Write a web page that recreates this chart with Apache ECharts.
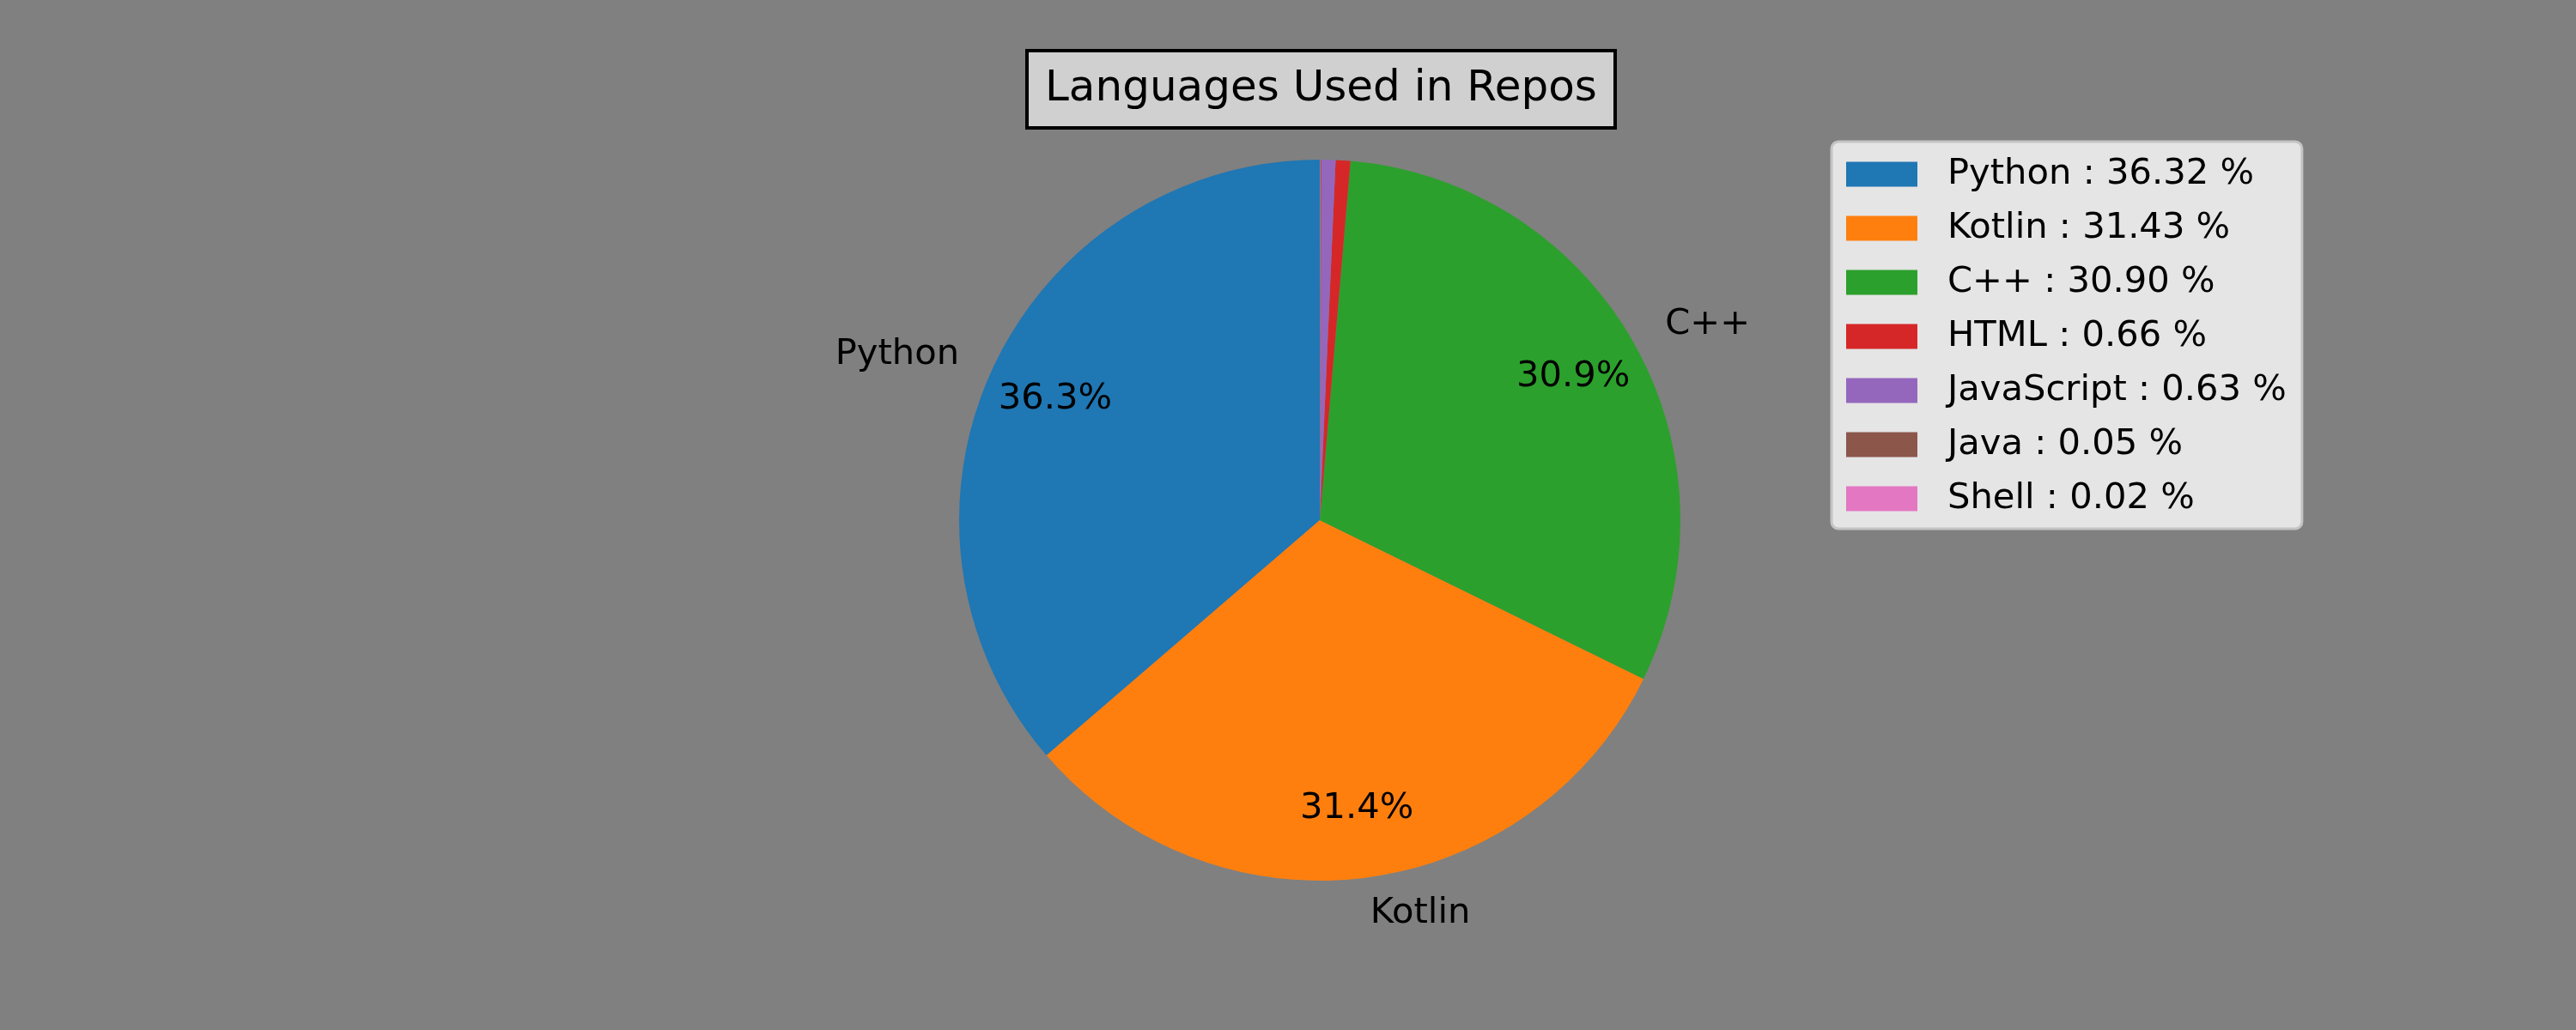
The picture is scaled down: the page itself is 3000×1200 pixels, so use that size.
<!DOCTYPE html>
<html>
<head>
<meta charset="utf-8">
<title>Languages Used in Repos</title>
<script src="https://cdn.jsdelivr.net/npm/echarts@6/dist/echarts.min.js"></script>
<style>
  html, body { margin: 0; padding: 0; background: #808080; }
  #chart { width: 3000px; height: 1200px; }
</style>
</head>
<body>
<div id="chart"></div>
<script>
// languages and their share (%) of code
const langs = ['Python', 'Kotlin', 'C++', 'HTML', 'JavaScript', 'Java', 'Shell'];
const shares = [36.32, 31.43, 30.90, 0.66, 0.63, 0.05, 0.02];
const colors = ['#1f77b4', '#ff7f0e', '#2ca02c', '#d62728', '#9467bd', '#8c564b', '#e377c2'];
// only these get a name / percent label on the pie
const labelled = ['Python', 'Kotlin', 'C++'];

const FONT = 'DejaVu Sans';
const FS = 41.67;
const R = 420;
const CENTER = [1537, 606];

const chart = echarts.init(document.getElementById('chart'), null, { renderer: 'canvas' });

const pieData = langs.map(function (n, i) {
  return { name: n, value: shares[i], itemStyle: { color: colors[i] } };
});

const option = {
  backgroundColor: '#808080',
  animation: false,
  title: {
    text: 'Languages Used in Repos',
    left: 1196,
    top: 59,
    padding: [20, 21],
    backgroundColor: '#d0d0d0',
    borderColor: '#000',
    borderWidth: 4,
    textStyle: {
      fontFamily: FONT,
      fontSize: 50,
      fontWeight: 'normal',
      color: '#000',
      lineHeight: 50
    }
  },
  legend: {
    orient: 'vertical',
    left: 2133,
    top: 165,
    padding: [17, 18, 14, 17],
    itemGap: 21,
    itemWidth: 83,
    itemHeight: 29,
    icon: 'rect',
    backgroundColor: '#e5e5e5',
    borderColor: '#c4c4c4',
    borderWidth: 3,
    borderRadius: 8,
    data: langs,
    formatter: function (name) {
      const i = langs.indexOf(name);
      return name + ' : ' + shares[i].toFixed(2) + ' %';
    },
    textStyle: {
      fontFamily: FONT,
      fontSize: FS,
      lineHeight: 42,
      color: '#000',
      padding: [0, 0, 0, 30]
    }
  },
  series: [
    {
      name: 'langs',
      type: 'pie',
      center: CENTER,
      radius: R,
      startAngle: 90,
      clockwise: false,
      avoidLabelOverlap: false,
      emphasis: { disabled: true },
      data: pieData,
      label: {
        show: true,
        position: 'outside',
        distanceToLabelLine: 0,
        fontFamily: FONT,
        fontSize: FS,
        color: '#000',
        formatter: function (p) {
          return labelled.indexOf(p.name) >= 0 ? p.name : '';
        }
      },
      labelLine: { show: false, length: 42, length2: 0 }
    },
    {
      // transparent ring, only used to place percent labels at 0.8 R
      name: 'pct',
      type: 'pie',
      center: CENTER,
      radius: [R * 0.6, R],
      startAngle: 90,
      clockwise: false,
      silent: true,
      data: langs.map(function (n, i) {
        return { name: n, value: shares[i] };
      }),
      itemStyle: { color: 'rgba(0,0,0,0)' },
      label: {
        show: true,
        position: 'inside',
        fontFamily: FONT,
        fontSize: FS,
        color: '#000',
        formatter: function (p) {
          return labelled.indexOf(p.name) >= 0 ? p.percent.toFixed(1) + '%' : '';
        }
      },
      labelLine: { show: false }
    }
  ]
};

chart.setOption(option);
</script>
</body>
</html>
